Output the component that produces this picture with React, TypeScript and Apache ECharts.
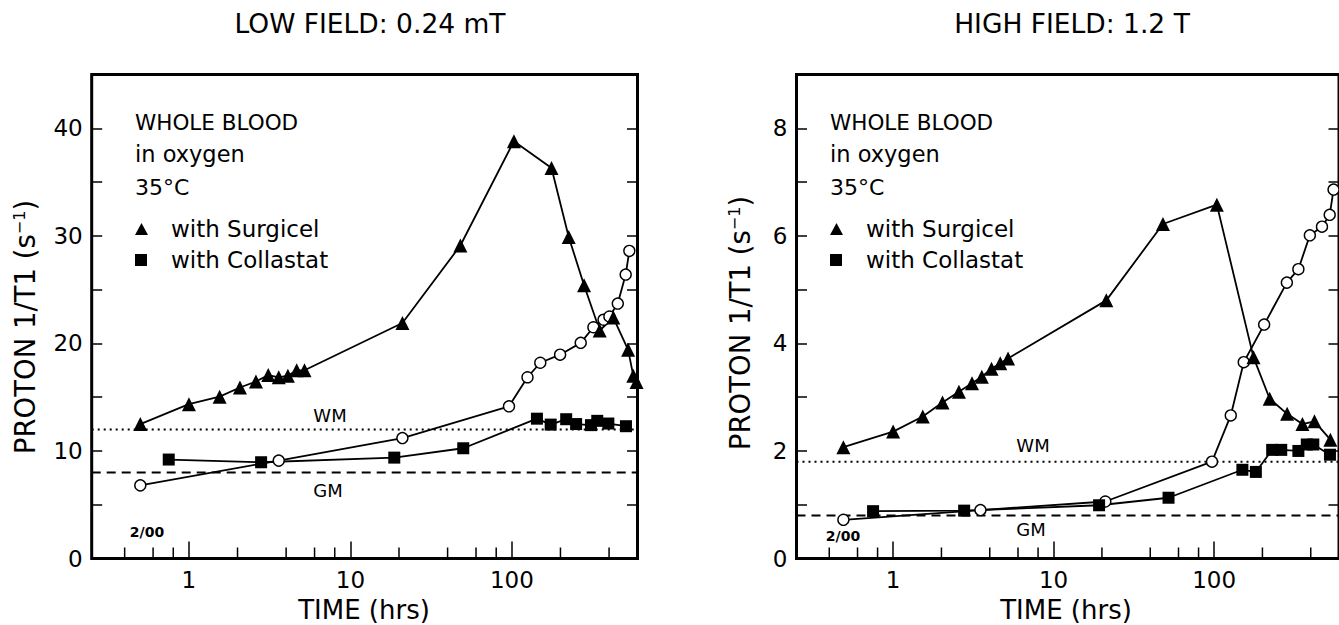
import React, { useEffect, useRef } from "react";
import * as echarts from "echarts";

// ---------- data ----------
const X_MIN = 0.25;
const X_MAX = 600;
const xMajorLabels = [1, 10, 100];
const xMinorTicks = [0.4, 0.6, 0.8, 2, 4, 6, 8, 20, 40, 60, 80, 200, 400];

// LOW FIELD: 0.24 mT
const lowSurgicelX = [0.5, 1.0, 1.55, 2.07, 2.6, 3.1, 3.6, 4.1, 4.65, 5.2, 21, 48, 103, 176, 225, 280, 350, 425, 525, 565, 592];
const lowSurgicelY = [12.5, 14.35, 15.05, 15.9, 16.45, 17.05, 16.85, 17.0, 17.5, 17.5, 21.9, 29.1, 38.8, 36.3, 29.9, 25.4, 21.2, 22.4, 19.4, 17.0, 16.4];
const lowCollastatX = [0.75, 2.8, 18.7, 50, 143, 174, 217, 250, 309, 338, 396, 509];
const lowCollastatY = [9.2, 8.95, 9.38, 10.25, 13.0, 12.45, 12.95, 12.5, 12.4, 12.8, 12.55, 12.3];
const lowBloodX = [0.5, 3.6, 21, 96, 125, 150, 199, 267, 320, 370, 402, 453, 507, 534];
const lowBloodY = [6.8, 9.1, 11.2, 14.15, 16.85, 18.2, 18.95, 20.05, 21.5, 22.2, 22.5, 23.7, 26.4, 28.6];
const lowWM = 12;
const lowGM = 8;

// HIGH FIELD: 1.2 T
const highSurgicelX = [0.49, 1.0, 1.53, 2.03, 2.57, 3.1, 3.57, 4.1, 4.65, 5.2, 21.3, 48, 104, 176, 222, 285, 355, 422, 530];
const highSurgicelY = [2.07, 2.36, 2.64, 2.9, 3.1, 3.26, 3.38, 3.53, 3.63, 3.72, 4.8, 6.22, 6.58, 3.74, 2.97, 2.69, 2.5, 2.55, 2.21];
const highCollastatX = [0.75, 2.77, 19.2, 52, 150, 182, 230, 262, 335, 378, 415, 527];
const highCollastatY = [0.88, 0.89, 0.99, 1.13, 1.65, 1.61, 2.02, 2.02, 2.0, 2.12, 2.12, 1.93];
const highBloodX = [0.49, 3.5, 21, 97, 127, 153, 205, 284, 335, 395, 470, 525, 555];
const highBloodY = [0.72, 0.9, 1.06, 1.8, 2.66, 3.65, 4.35, 5.13, 5.38, 6.01, 6.17, 6.39, 6.86];
const highWM = 1.8;
const highGM = 0.8;

const titles = ["LOW FIELD: 0.24 mT", "HIGH FIELD: 1.2 T"];
const blockLines = ["WHOLE BLOOD", "in oxygen", "35°C"];
const legendLabels = ["with Surgicel", "with Collastat"];

const FONT = "'DejaVu Sans', 'Liberation Sans', sans-serif";

function pairs(xs: number[], ys: number[]) {
  return xs.map((x, i) => [x, ys[i]]);
}

function xLabel(v: number) {
  const r = Math.round(v);
  return xMajorLabels.includes(r) && Math.abs(v - r) < 1e-6 * Math.max(r, 1) ? String(r) : "";
}

export default function App() {
  const ref = useRef<HTMLDivElement>(null);

  useEffect(() => {
    if (!ref.current) return;
    const chart = echarts.init(ref.current, null, { renderer: "svg" });

    const panels = [
      {
        grid: { left: 91.7, top: 74.5, width: 545.8, height: 484 },
        ymax: 45, yInt: 5, yLab: 10,
        surg: pairs(lowSurgicelX, lowSurgicelY),
        coll: pairs(lowCollastatX, lowCollastatY),
        blood: pairs(lowBloodX, lowBloodY),
        wm: lowWM, gm: lowGM,
      },
      {
        grid: { left: 796.5, top: 74.5, width: 547.5, height: 484 },
        ymax: 9, yInt: 1, yLab: 2,
        surg: pairs(highSurgicelX, highSurgicelY),
        coll: pairs(highCollastatX, highCollastatY),
        blood: pairs(highBloodX, highBloodY),
        wm: highWM, gm: highGM,
      },
    ];

    const grid = panels.map((p) => ({
      ...p.grid,
      show: true,
      borderColor: "#000",
      borderWidth: 3,
      backgroundColor: "transparent",
      containLabel: false,
    }));

    const xAxis = panels.map((p, i) => ({
      gridIndex: i,
      type: "log",
      logBase: 10,
      min: X_MIN,
      max: X_MAX,
      axisLine: { show: false },
      axisTick: { show: true, inside: true, length: 17, lineStyle: { color: "#000", width: 1.5 } },
      axisLabel: {
        formatter: (v: number) => xLabel(v),
        color: "#000",
        fontSize: 23,
        fontFamily: FONT,
        margin: 10,
        showMinLabel: false,
        showMaxLabel: false,
      },
      splitLine: { show: false },
      minorTick: { show: false },
    }));

    const yAxis: any[] = [];
    panels.forEach((p, i) => {
      const base = {
        gridIndex: i,
        type: "value",
        min: 0,
        max: p.ymax,
        interval: p.yInt,
        axisLine: { show: false },
        axisTick: { show: true, inside: true, length: 10.5, lineStyle: { color: "#000", width: 1.5 } },
        splitLine: { show: false },
      };
      yAxis.push({
        ...base,
        position: "left",
        axisLabel: {
          formatter: (v: number) => (Math.abs(v % p.yLab) < 1e-9 ? String(v) : ""),
          color: "#000",
          fontSize: 23,
          fontFamily: FONT,
          margin: 9,
        },
      });
      yAxis.push({ ...base, position: "right", axisLabel: { show: false } });
    });

    const series: any[] = [];
    panels.forEach((p, i) => {
      const ax = { xAxisIndex: i, yAxisIndex: 2 * i };
      series.push({
        ...ax, type: "line", name: "WM" + i, data: [[X_MIN, p.wm], [X_MAX, p.wm]],
        showSymbol: false, symbol: "none",
        lineStyle: { color: "#000", width: 2, type: [2, 4] }, silent: true,
      });
      series.push({
        ...ax, type: "line", name: "GM" + i, data: [[X_MIN, p.gm], [X_MAX, p.gm]],
        showSymbol: false, symbol: "none",
        lineStyle: { color: "#000", width: 2, type: [9, 6] }, silent: true,
      });
      series.push({
        ...ax, type: "line", name: "blood" + i, data: p.blood, clip: false,
        symbol: "circle", symbolSize: 11,
        lineStyle: { color: "#000", width: 1.8 },
        itemStyle: { color: "#fff", borderColor: "#000", borderWidth: 1.4 },
      });
      series.push({
        ...ax, type: "line", name: "collastat" + i, data: p.coll, clip: false,
        symbol: "rect", symbolSize: 12,
        lineStyle: { color: "#000", width: 1.8 },
        itemStyle: { color: "#000" },
      });
      series.push({
        ...ax, type: "line", name: "surgicel" + i, data: p.surg, clip: false,
        symbol: "triangle", symbolSize: 14,
        lineStyle: { color: "#000", width: 1.8 },
        itemStyle: { color: "#000" },
      });
      series.push({
        ...ax, type: "custom", name: "minor" + i, silent: true, z: 5,
        data: xMinorTicks.map((v) => [v, 0]),
        encode: { x: 0, y: 1 },
        renderItem: (params: any, api: any) => {
          const c = api.coord([api.value(0), 0]);
          return {
            type: "line",
            shape: { x1: c[0], y1: c[1], x2: c[0], y2: c[1] - 11 },
            style: { stroke: "#000", lineWidth: 1.5 },
          };
        },
      });
    });

    const txt = (x: number, y: number, text: string, fontSize: number, extra: any = {}) => ({
      type: "text",
      x, y,
      silent: true,
      style: {
        text,
        fontSize,
        fontFamily: FONT,
        fill: "#000",
        align: extra.align || "left",
        verticalAlign: "middle",
        textAlign: extra.align || "left",
        textVerticalAlign: "middle",
        fontWeight: extra.fontWeight || "normal",
        rich: extra.rich,
      },
      rotation: extra.rotation || 0,
    });

    const annot = [
      { title: [370, 23], block: 135, wm: [330, 415], gm: [328, 490], date: [147, 532], yname: [25, 327], xname: [364, 610] },
      { title: [1072, 23], block: 830, wm: [1033, 445], gm: [1031, 529], date: [843, 536], yname: [740, 323], xname: [1066, 610] },
    ];
    const blockY = [122, 154, 187];
    const blockSize = [21.5, 22.5, 22];
    const legendY = [229, 260];

    const graphic: any[] = [];
    annot.forEach((a, i) => {
      graphic.push(txt(a.title[0], a.title[1], titles[i], 26.5, { align: "center" }));
      blockLines.forEach((t, k) => graphic.push(txt(a.block, blockY[k], t, blockSize[k])));
      graphic.push({
        type: "polygon", silent: true,
        shape: { points: [[a.block, legendY[0] + 6], [a.block + 13, legendY[0] + 6], [a.block + 6.5, legendY[0] - 6]] },
        style: { fill: "#000" },
      });
      graphic.push({
        type: "rect", silent: true,
        shape: { x: a.block, y: legendY[1] - 6, width: 12, height: 12 },
        style: { fill: "#000" },
      });
      legendLabels.forEach((t, k) => graphic.push(txt(a.block + 36, legendY[k], t, 23)));
      graphic.push(txt(a.wm[0], a.wm[1], "WM", 18, { align: "center" }));
      graphic.push(txt(a.gm[0], a.gm[1], "GM", 18, { align: "center" }));
      graphic.push(txt(a.date[0], a.date[1], "2/00", 14, { align: "center", fontWeight: "bold" }));
      graphic.push(
        txt(a.yname[0], a.yname[1], "PROTON 1/T1 (s{sup|−1})", 27.5, {
          align: "center",
          rotation: Math.PI / 2,
          rich: { sup: { fontSize: 16, fontFamily: FONT, fill: "#000", verticalAlign: "top", lineHeight: 16 } },
        })
      );
      graphic.push(txt(a.xname[0], a.xname[1], "TIME (hrs)", 26, { align: "center" }));
    });

    chart.setOption({
      animation: false,
      backgroundColor: "#fff",
      grid,
      xAxis,
      yAxis,
      series,
      graphic,
    });

    return () => chart.dispose();
  }, []);

  return (
    <div
      ref={ref}
      style={{ position: "fixed", left: 0, top: 0, width: 1339, height: 625, background: "#fff" }}
    />
  );
}
